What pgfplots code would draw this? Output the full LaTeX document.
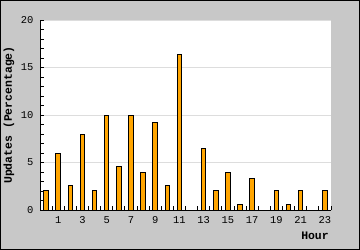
\documentclass[border=0pt]{standalone}
\usepackage{pgfplots}
\pgfplotsset{compat=1.18}
\usepackage{fontspec}
\setmainfont{Liberation Mono}
\setmonofont{Liberation Mono}
\definecolor{bggray}{HTML}{C8C8C8}
\definecolor{barorange}{HTML}{FFA500}
\definecolor{gridgray}{HTML}{DDDDDD}
\begin{document}
\begin{tikzpicture}
\fill[bggray] (0,0) rectangle (360bp,250bp);
\draw[line width=1bp] (0.5bp,0.5bp) rectangle (359.5bp,249.5bp);
\begin{axis}[
  at={(40bp,40bp)}, anchor=south west,
  scale only axis, width=291bp, height=190bp,
  xmin=-0.5, xmax=23.5, ymin=0, ymax=20,
  axis background/.style={fill=white},
  axis x line=bottom, axis y line=left,
  axis line style={line width=1bp, -},
  xtick={1,3,...,23},
  minor xtick={-0.5,0.5,...,23.5},
  every major x tick/.style={draw=none},
  every minor x tick/.style={line width=0.8bp, black},
  ytick={0,5,10,15,20},
  minor y tick num=4,
  every major y tick/.style={line width=0.8bp, black},
  every minor y tick/.style={line width=0.8bp, black},
  tick align=inside,
  major tick length=4bp, minor tick length=4bp,
  ymajorgrids, major grid style={gridgray, line width=0.8bp},
  tick label style={font=\fontsize{10.5}{10.5}\selectfont},
  xticklabel style={yshift=-3bp},
  yticklabel style={xshift=-3bp},
  /pgf/number format/assume math mode=true,
  xlabel={\bfseries Hour},
  xlabel style={at={(axis description cs:1,0)}, anchor=center, yshift=-26bp, xshift=-16bp, font=\fontsize{11.5}{11.5}\selectfont},
  ylabel={\bfseries Updates (Percentage)},
  ylabel style={at={(axis description cs:-0.1065,0.5)}, anchor=center, font=\fontsize{11.5}{11.5}\selectfont},
  clip=false,
]
\addplot[ybar, bar width=4.5bp, fill=barorange, draw=black, line width=1bp]
coordinates {
(0,2.0) (1,5.9) (2,2.6) (3,7.9) (4,2.0) (5,9.9) (6,4.6) (7,9.9) (8,3.9) (9,9.2)
(10,2.6) (11,16.4) (13,6.5) (14,2.0) (15,3.9) (16,0.6) (17,3.3)
(19,2.0) (20,0.6) (21,2.0) (23,2.0)
};
\end{axis}
\end{tikzpicture}
\end{document}
